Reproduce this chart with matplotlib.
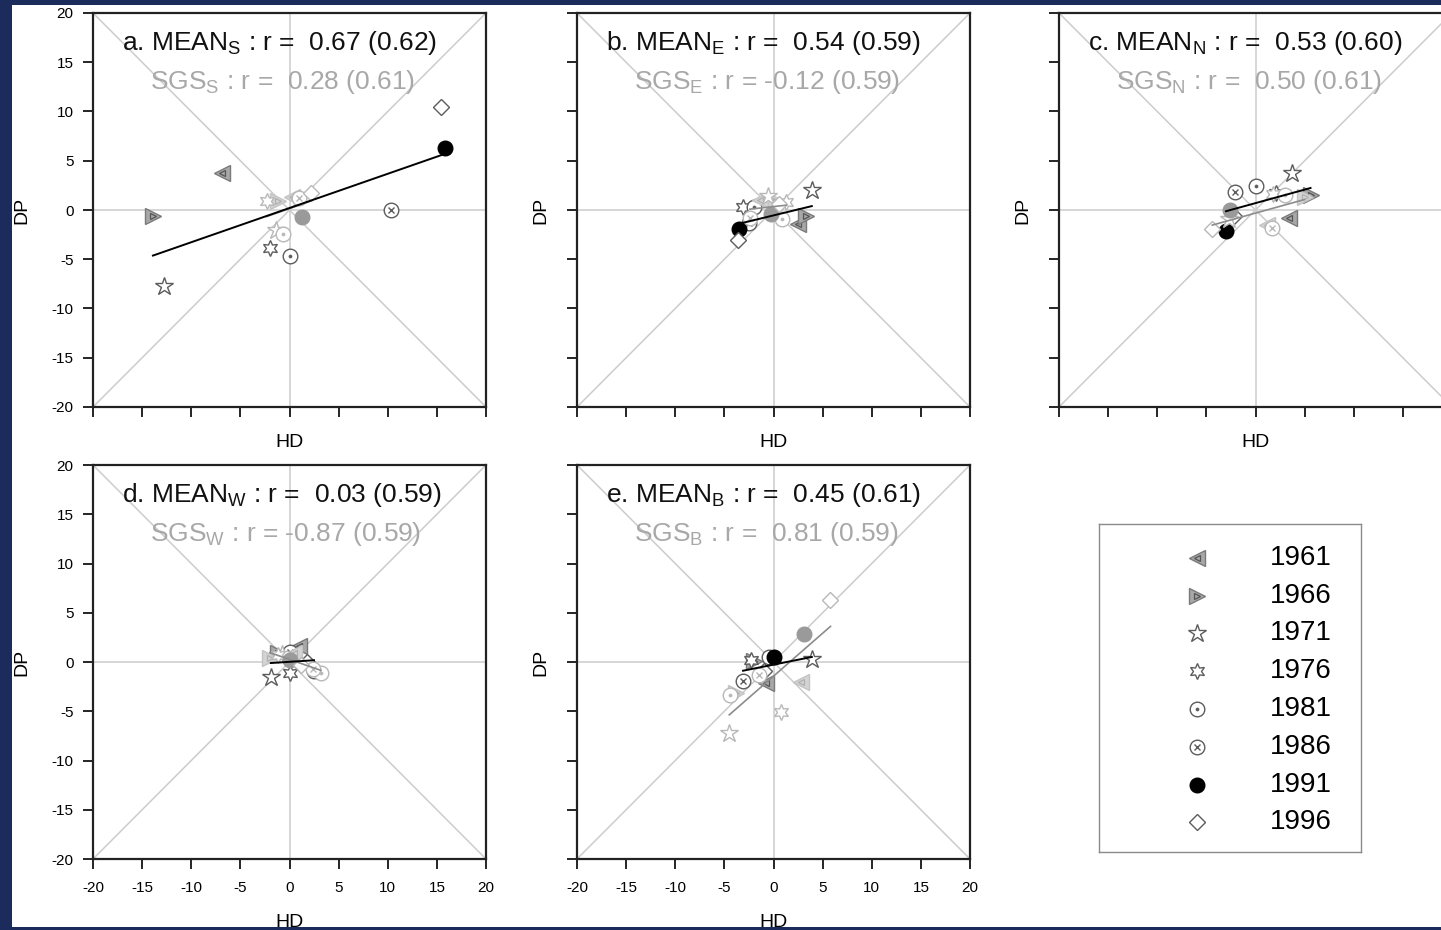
import numpy as np
import matplotlib
matplotlib.use("Agg")
import matplotlib.pyplot as plt
from matplotlib.patches import Rectangle

plt.rcParams["font.family"] = ["Liberation Sans", "DejaVu Sans"]
plt.rcParams["mathtext.default"] = "regular"
plt.rcParams["axes.unicode_minus"] = False

years = ["1961", "1966", "1971", "1976", "1981", "1986", "1991", "1996"]

# HD / DP anomalies for each region, one value per year
mean_hd_S = [-6.9, -13.9, -12.8, -2.0, 0.1, 10.3, 15.8, 15.4]
mean_dp_S = [3.8, -0.6, -7.7, -3.9, -4.7, 0.0, 6.3, 10.5]
sgs_hd_S = [0.3, -1.2, -1.4, -2.3, -0.7, 1.0, 1.3, 2.2]
sgs_dp_S = [1.3, 0.9, -2.0, 0.9, -2.4, 1.2, -0.7, 1.7]

mean_hd_E = [2.5, 3.3, 3.9, -3.1, -2.0, -2.5, -3.5, -3.6]
mean_dp_E = [-1.4, -0.6, 2.0, 0.3, 0.3, -1.3, -1.9, -3.0]
sgs_hd_E = [-1.4, 0.3, -0.6, 1.3, 0.9, -2.4, -0.3, 0.6]
sgs_dp_E = [1.0, 0.9, 1.4, 0.8, -0.9, -0.8, -0.4, 0.6]

mean_hd_N = [3.4, 5.6, 3.7, 2.1, 0.0, -2.1, -3.0, -2.2]
mean_dp_N = [-0.85, 1.5, 3.8, 1.7, 2.4, 1.8, -2.1, -0.6]
sgs_hd_N = [1.2, 5.0, -2.7, 1.8, 3.0, 1.7, -2.6, -4.4]
sgs_dp_N = [-1.5, 1.3, -0.9, 1.6, 1.5, -1.8, 0.0, -1.9]

mean_hd_W = [1.0, -1.2, -1.9, 0.1, 2.5, 0.0, 0.1, 1.8]
mean_dp_W = [1.6, 0.9, -1.5, -1.1, -0.9, 1.0, 0.3, 0.0]
sgs_hd_W = [0.5, -2.0, -0.8, -1.2, 3.2, 2.4, 0.1, 1.2]
sgs_dp_W = [0.9, 0.4, 0.8, 0.7, -1.1, -0.7, 0.2, -0.3]

mean_hd_B = [-0.8, -2.0, 3.9, -2.3, -0.5, -3.1, 0.0, -1.0]
mean_dp_B = [-2.1, 0.1, 0.3, 0.2, 0.5, -1.9, 0.5, -0.9]
sgs_hd_B = [2.8, -3.8, -4.5, 0.8, -4.4, -1.5, 3.1, 5.8]
sgs_dp_B = [-2.0, -3.1, -7.2, -5.1, -3.4, -1.3, 2.8, 6.3]

panel_letters = ["a", "b", "c", "d", "e"]
regions = ["S", "E", "N", "W", "B"]
r_mean = [0.67, 0.54, 0.53, 0.03, 0.45]
r_mean_sig = [0.62, 0.59, 0.60, 0.59, 0.61]
r_sgs = [0.28, -0.12, 0.50, -0.87, 0.81]
r_sgs_sig = [0.61, 0.59, 0.61, 0.59, 0.59]

mean_hd = [mean_hd_S, mean_hd_E, mean_hd_N, mean_hd_W, mean_hd_B]
mean_dp = [mean_dp_S, mean_dp_E, mean_dp_N, mean_dp_W, mean_dp_B]
sgs_hd = [sgs_hd_S, sgs_hd_E, sgs_hd_N, sgs_hd_W, sgs_hd_B]
sgs_dp = [sgs_dp_S, sgs_dp_E, sgs_dp_N, sgs_dp_W, sgs_dp_B]


def year_layers(k, light):
    # marker layers (marker, size, face, edge, edge width) for one year
    edge = "#b8b8b8" if light else "#5c5c5c"
    tri_face = "#d4d4d4" if light else "#a8a8a8"
    tri_edge = "#c4c4c4" if light else "#7a7a7a"
    tri_inner = "#b0b0b0" if light else "#555555"
    dot = "#9a9a9a" if light else "black"
    if k == 0:
        return [("<", 11.5, tri_face, tri_edge, 1.0), ("<", 5, "none", tri_inner, 0.9)]
    if k == 1:
        return [(">", 11.5, tri_face, tri_edge, 1.0), (">", 5, "none", tri_inner, 0.9)]
    if k == 2:
        return [("*", 13.5, "white", edge, 1.0)]
    if k == 3:
        return [((6, 1, 0), 11.5, "white", edge, 1.0)]
    if k == 4:
        return [("o", 10.5, "white", edge, 1.0), ("o", 2.2, edge, edge, 0.5)]
    if k == 5:
        return [("o", 10.5, "white", edge, 1.0), ("x", 5, edge, edge, 1.0)]
    if k == 6:
        return [("o", 10.5, dot, dot, 1.0)]
    return [("D", 7.8, "white", edge, 1.0)]


def draw_year(ax, x, y, k, light, z):
    for m, ms, fc, ec, mew in year_layers(k, light):
        ax.plot([x], [y], ls="none", marker=m, ms=ms, mfc=fc, mec=ec, mew=mew,
                zorder=z, clip_on=False)


W, H = 1441, 930
fig = plt.figure(figsize=(W / 100, H / 100), dpi=100, facecolor="#1b2c5c")
fig.add_artist(Rectangle((12 / W, 3 / H), 1 - 12 / W, 922 / H,
                         transform=fig.transFigure, facecolor="white",
                         edgecolor="none", zorder=-10))


def px_axes(left, top, w, h):
    return fig.add_axes([left / W, 1 - (top + h) / H, w / W, h / H])


boxes = [(93, 13), (577, 13), (1059, 13), (93, 465), (577, 465)]
tick_font = ["Liberation Sans Narrow", "Liberation Sans"]

for i, (lx, ty) in enumerate(boxes):
    ax = px_axes(lx, ty, 393, 394)
    ax.set_xlim(-20, 20)
    ax.set_ylim(-20, 20)
    guide = dict(color="#cccccc", lw=1.1, zorder=1)
    ax.plot([-20, 20], [-20, 20], **guide)
    ax.plot([-20, 20], [20, -20], **guide)
    ax.axhline(0, **guide)
    ax.axvline(0, **guide)

    for k in range(len(years)):
        draw_year(ax, mean_hd[i][k], mean_dp[i][k], k, False, 3)
    for k in range(len(years)):
        draw_year(ax, sgs_hd[i][k], sgs_dp[i][k], k, True, 4)

    # least-squares lines over the range of each series
    for hd, dp, col, lw in [(sgs_hd[i], sgs_dp[i], "#8c8c8c", 1.2),
                            (mean_hd[i], mean_dp[i], "black", 1.4)]:
        slope, icpt = np.polyfit(hd, dp, 1)
        xs = np.array([min(hd), max(hd)])
        ax.plot(xs, slope * xs + icpt, color=col, lw=lw, zorder=5)

    rg = regions[i]
    ax.text(0.074, 0.925,
            f"{panel_letters[i]}. MEAN$_{rg}$ : r = {r_mean[i]:5.2f} ({r_mean_sig[i]:.2f})",
            transform=ax.transAxes, fontsize=19, color="#111111", va="center",
            ha="left", zorder=6)
    ax.text(0.145, 0.826,
            f"SGS$_{rg}$ : r = {r_sgs[i]:5.2f} ({r_sgs_sig[i]:.2f})",
            transform=ax.transAxes, fontsize=19, color="#a8a8a8", va="center",
            ha="left", zorder=6)

    ax.set_xticks(np.arange(-20, 21, 5))
    ax.set_yticks(np.arange(-20, 21, 5))
    bottom_row = i >= 3
    left_col = i in (0, 3)
    ax.tick_params(direction="out", length=7, width=1.2, pad=7,
                   labelsize=11, labelbottom=bottom_row, labelleft=left_col)
    ax.tick_params(axis="x", pad=9)
    for lab in ax.get_xticklabels() + ax.get_yticklabels():
        lab.set_family(tick_font)
    for sp in ax.spines.values():
        sp.set_linewidth(1.6)
        sp.set_color("#222222")

    ax.text(0.5, -0.16 if bottom_row else -0.089, "HD", transform=ax.transAxes,
            fontsize=14, ha="center", va="center")
    ax.text(-0.18 if left_col else -0.092, 0.5, "DP", transform=ax.transAxes,
            fontsize=14, ha="center", va="center", rotation=90)

# year key
lg = px_axes(1099, 524, 262, 328)
lg.set_xlim(0, 1)
lg.set_ylim(0, 1)
lg.set_xticks([])
lg.set_yticks([])
for sp in lg.spines.values():
    sp.set_color("#8a8a8a")
    sp.set_linewidth(1.0)
key_rows = [558, 596, 633, 671, 709, 747, 785, 822]
for k, yr in enumerate(years):
    yy = 1 - (key_rows[k] - 524) / 328
    draw_year(lg, 0.374, yy, k, False, 3)
    lg.text(0.653, yy, yr, fontsize=20, va="center", ha="left")

fig.savefig("out.png", dpi=100, facecolor=fig.get_facecolor())
